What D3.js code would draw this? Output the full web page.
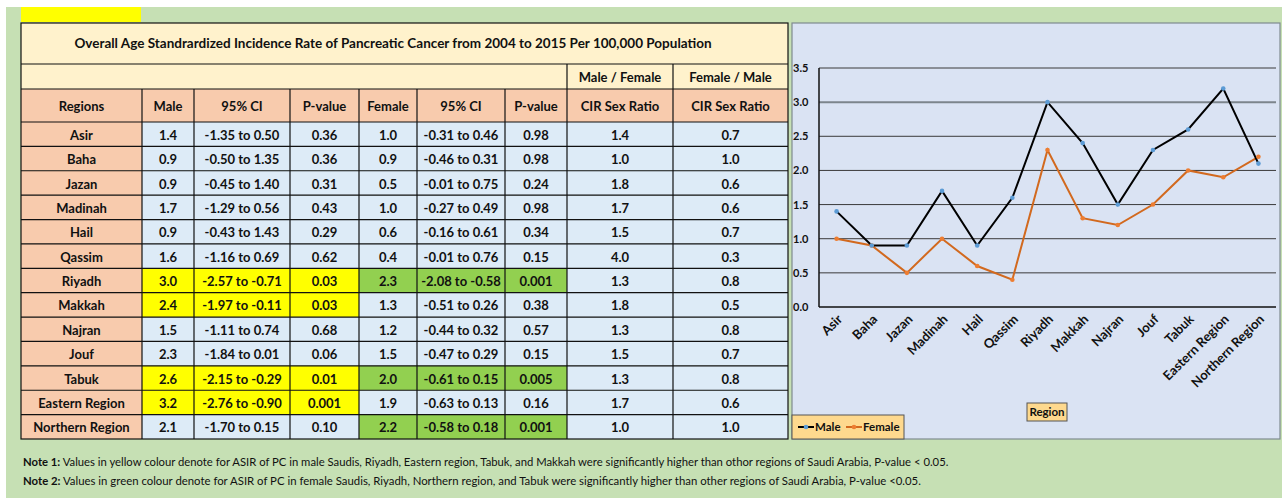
<!DOCTYPE html>
<html><head><meta charset="utf-8">
<script src="https://cdn.jsdelivr.net/npm/d3@7"></script>
<style>
html,body{margin:0;padding:0;background:#fff;}
svg{display:block;font-family:Lato,"Open Sans",sans-serif;}
</style></head>
<body>
<svg id="chart" width="1282" height="498"></svg>
<script>
// ---------- data ----------
const regions = ["Asir","Baha","Jazan","Madinah","Hail","Qassim","Riyadh","Makkah","Najran","Jouf","Tabuk","Eastern Region","Northern Region"];
const male = [1.4,0.9,0.9,1.7,0.9,1.6,3.0,2.4,1.5,2.3,2.6,3.2,2.1];
const maleCI = ["-1.35 to 0.50","-0.50 to 1.35","-0.45 to 1.40","-1.29 to 0.56","-0.43 to 1.43","-1.16 to 0.69","-2.57 to -0.71","-1.97 to -0.11","-1.11 to 0.74","-1.84 to 0.01","-2.15 to -0.29","-2.76 to -0.90","-1.70 to 0.15"];
const maleP = ["0.36","0.36","0.31","0.43","0.29","0.62","0.03","0.03","0.68","0.06","0.01","0.001","0.10"];
const female = [1.0,0.9,0.5,1.0,0.6,0.4,2.3,1.3,1.2,1.5,2.0,1.9,2.2];
const femaleCI = ["-0.31 to 0.46","-0.46 to 0.31","-0.01 to 0.75","-0.27 to 0.49","-0.16 to 0.61","-0.01 to 0.76","-2.08 to -0.58","-0.51 to 0.26","-0.44 to 0.32","-0.47 to 0.29","-0.61 to 0.15","-0.63 to 0.13","-0.58 to 0.18"];
const femaleP = ["0.98","0.98","0.24","0.98","0.34","0.15","0.001","0.38","0.57","0.15","0.005","0.16","0.001"];
const ratioMF = ["1.4","1.0","1.8","1.7","1.5","4.0","1.3","1.8","1.3","1.5","1.3","1.7","1.0"];
const ratioFM = ["0.7","1.0","0.6","0.6","0.7","0.3","0.8","0.5","0.8","0.7","0.8","0.6","1.0"];
const maleSig = ["Riyadh","Makkah","Tabuk","Eastern Region"];
const femaleSig = ["Riyadh","Tabuk","Northern Region"];
const headers = ["Regions","Male","95% CI","P-value","Female","95% CI","P-value","CIR Sex Ratio","CIR Sex Ratio"];
const yTicks = [0,0.5,1.0,1.5,2.0,2.5,3.0,3.5];
const title = "Overall Age Standrardized Incidence Rate of Pancreatic Cancer from 2004 to 2015 Per 100,000 Population";
const note1 = ["Note 1:"," Values in yellow colour denote for ASIR of PC in male Saudis, Riyadh, Eastern region, Tabuk, and Makkah were significantly higher than othor regions of Saudi Arabia, P-value < 0.05."];
const note2 = ["Note 2:"," Values in green colour denote for ASIR of PC in female Saudis, Riyadh, Northern region, and Tabuk were significantly higher than other regions of Saudi Arabia, P-value <0.05."];

// ---------- styles ----------
const C = {bg:"#c6e0b4", title:"#fff2cc", peach:"#f8cbad", cell:"#ddebf7", yellow:"#ffff00", green:"#92d050",
  plot:"#dae3f3", legend:"#fed98e", maleLine:"#000000", maleDot:"#5b9bd5", femLine:"#d2691e", femDot:"#ed7d31"};
const svg = d3.select("#chart");
const FS = 13;

function fit(sel, target){
  const w = sel.node().getComputedTextLength();
  const fs = parseFloat(sel.attr("font-size"));
  sel.attr("font-size", (fs*target/w).toFixed(2));
}

// background
svg.append("rect").attr("x",6).attr("y",7).attr("width",1276).attr("height",491).attr("fill",C.bg);
svg.append("rect").attr("x",21).attr("y",7).attr("width",120).attr("height",15).attr("fill",C.yellow);

// ---------- table ----------
const colX = [21,142,194,290,359,417,505,567,673,788];
const tTop = 23, r1 = 64, r2 = 89, r3 = 122, tBot = 439;
const T = svg.append("g");
T.append("rect").attr("x",colX[0]).attr("y",tTop).attr("width",colX[9]-colX[0]).attr("height",r2-tTop).attr("fill",C.title);
T.append("rect").attr("x",colX[0]).attr("y",r2).attr("width",colX[9]-colX[0]).attr("height",r3-r2).attr("fill",C.peach);

const t = T.append("text").attr("x",393).attr("y",(tTop+r1)/2).attr("dy","0.35em").attr("text-anchor","middle")
  .attr("font-weight","bold").attr("font-size",13).attr("fill","#111").text(title);
fit(t, 637);

T.append("text").attr("x",(colX[7]+colX[8])/2).attr("y",(r1+r2)/2+1).attr("dy","0.35em").attr("text-anchor","middle")
  .attr("font-weight","bold").attr("font-size",FS).attr("fill","#111").text("Male / Female");
T.append("text").attr("x",(colX[8]+colX[9])/2).attr("y",(r1+r2)/2+1).attr("dy","0.35em").attr("text-anchor","middle")
  .attr("font-weight","bold").attr("font-size",FS).attr("fill","#111").text("Female / Male");
headers.forEach((h,i)=>{
  T.append("text").attr("x",(colX[i]+colX[i+1])/2).attr("y",(r2+r3)/2+1).attr("dy","0.35em").attr("text-anchor","middle")
   .attr("font-weight","bold").attr("font-size",FS).attr("fill","#111").text(h);
});

const rowY = d3.scaleBand().domain(regions).range([r3,tBot]);
regions.forEach((r,i)=>{
  const vals = [r, male[i].toFixed(1), maleCI[i], maleP[i], female[i].toFixed(1), femaleCI[i], femaleP[i], ratioMF[i], ratioFM[i]];
  const y0 = rowY(r);
  vals.forEach((v,j)=>{
    let fill = C.cell;
    if(j===0) fill = C.peach;
    else if(j>=1 && j<=3 && maleSig.includes(r)) fill = C.yellow;
    else if(j>=4 && j<=6 && femaleSig.includes(r)) fill = C.green;
    T.append("rect").attr("x",colX[j]).attr("y",y0).attr("width",colX[j+1]-colX[j]).attr("height",rowY.bandwidth()).attr("fill",fill);
    T.append("text").attr("x",(colX[j]+colX[j+1])/2).attr("y",y0+rowY.bandwidth()/2+1).attr("dy","0.35em")
      .attr("text-anchor","middle").attr("font-weight","bold").attr("font-size",FS).attr("fill","#111").text(v);
  });
});

// table borders
const B = T.append("g").attr("stroke","#111").attr("stroke-width",1.2).attr("fill","none");
B.append("rect").attr("x",colX[0]).attr("y",tTop).attr("width",colX[9]-colX[0]).attr("height",tBot-tTop);
[r1,r2,r3].forEach(y=>B.append("line").attr("x1",colX[0]).attr("x2",colX[9]).attr("y1",y).attr("y2",y));
regions.forEach((r,i)=>{ if(i>0) B.append("line").attr("x1",colX[0]).attr("x2",colX[9]).attr("y1",rowY(r)).attr("y2",rowY(r)); });
colX.slice(1,9).forEach((x,i)=>{
  const top = (i+1>=7) ? r1 : r2;
  B.append("line").attr("x1",x).attr("x2",x).attr("y1",top).attr("y2",tBot);
});

// ---------- line chart ----------
const P = svg.append("g");
P.append("rect").attr("x",792).attr("y",23).attr("width",488).attr("height",416).attr("fill",C.plot)
  .attr("stroke","#7f8a8f").attr("stroke-width",1.2);
const x = d3.scalePoint().domain(regions).range([819,1276]).padding(0.5);
const y = d3.scaleLinear().domain([0,3.5]).range([307,68]);

P.append("g").selectAll("line").data(yTicks.filter(d=>d>0)).join("line")
  .attr("x1",819).attr("x2",1276).attr("y1",d=>y(d)).attr("y2",d=>y(d))
  .attr("stroke",d=>d===3?"#7c858c":"#3a3a3a").attr("stroke-width",d=>d===3?2:1);

const yAxis = P.append("g").attr("transform","translate(819,0)")
  .call(d3.axisLeft(y).tickValues(yTicks).tickFormat(d3.format(".1f")).tickSize(0).tickPadding(0));
yAxis.select(".domain").remove();
yAxis.selectAll("text").attr("x",-26).attr("text-anchor","start").attr("font-family","Lato").attr("font-weight","bold")
  .attr("font-size",11).attr("fill","#111");
P.append("line").attr("x1",819).attr("x2",819).attr("y1",68).attr("y2",307).attr("stroke","#111").attr("stroke-width",1.5);

const xAxis = P.append("g").attr("transform","translate(0,307)").call(d3.axisBottom(x).tickSize(0).tickPadding(0));
xAxis.select(".domain").attr("stroke","#111").attr("stroke-width",1.5).attr("d","M819,0H1276");
xAxis.selectAll("text").attr("font-family","Lato").attr("font-weight","bold").attr("font-size",13).attr("fill","#111")
  .attr("text-anchor","end").attr("dy",null).attr("y",null)
  .attr("transform","translate(6,13) rotate(-45)");

const line = d3.line().x((d,i)=>x(regions[i])).y(d=>y(d));
P.append("path").datum(female).attr("d",line).attr("fill","none").attr("stroke",C.femLine).attr("stroke-width",2);
P.append("path").datum(male).attr("d",line).attr("fill","none").attr("stroke",C.maleLine).attr("stroke-width",2);
P.append("g").selectAll("circle").data(female).join("circle").attr("cx",(d,i)=>x(regions[i])).attr("cy",d=>y(d)).attr("r",2.3).attr("fill",C.femDot);
P.append("g").selectAll("circle").data(male).join("circle").attr("cx",(d,i)=>x(regions[i])).attr("cy",d=>y(d)).attr("r",2.3).attr("fill",C.maleDot);

// axis title
P.append("rect").attr("x",1027).attr("y",403).attr("width",40).attr("height",18).attr("fill",C.legend).attr("stroke","#555").attr("stroke-width",1);
P.append("text").attr("x",1047).attr("y",412).attr("dy","0.35em").attr("text-anchor","middle").attr("font-weight","bold")
  .attr("font-size",11.5).attr("fill","#111").text("Region");

// legend
const L = P.append("g");
L.append("rect").attr("x",792).attr("y",415).attr("width",112).attr("height",24).attr("fill",C.legend).attr("stroke","#555").attr("stroke-width",1);
const leg = [{n:"Male",l:C.maleLine,d:C.maleDot,x:798},{n:"Female",l:C.femLine,d:C.femDot,x:846}];
leg.forEach(o=>{
  L.append("line").attr("x1",o.x).attr("x2",o.x+16).attr("y1",427).attr("y2",427).attr("stroke",o.l).attr("stroke-width",2);
  L.append("circle").attr("cx",o.x+8).attr("cy",427).attr("r",2.3).attr("fill",o.d);
  L.append("text").attr("x",o.x+17).attr("y",427).attr("dy","0.35em").attr("font-weight","bold").attr("font-size",11.5).attr("fill","#111").text(o.n);
});

// ---------- notes ----------
function note(parts, yy, target){
  const tx = svg.append("text").attr("x",23).attr("y",yy).attr("dy","0.35em").attr("font-size",11).attr("fill","#111");
  tx.append("tspan").attr("font-weight","bold").text(parts[0]);
  tx.append("tspan").text(parts[1]);
  fit(tx, target);
}
note(note1, 462, 926);
note(note2, 481, 898);
</script>
</body></html>
